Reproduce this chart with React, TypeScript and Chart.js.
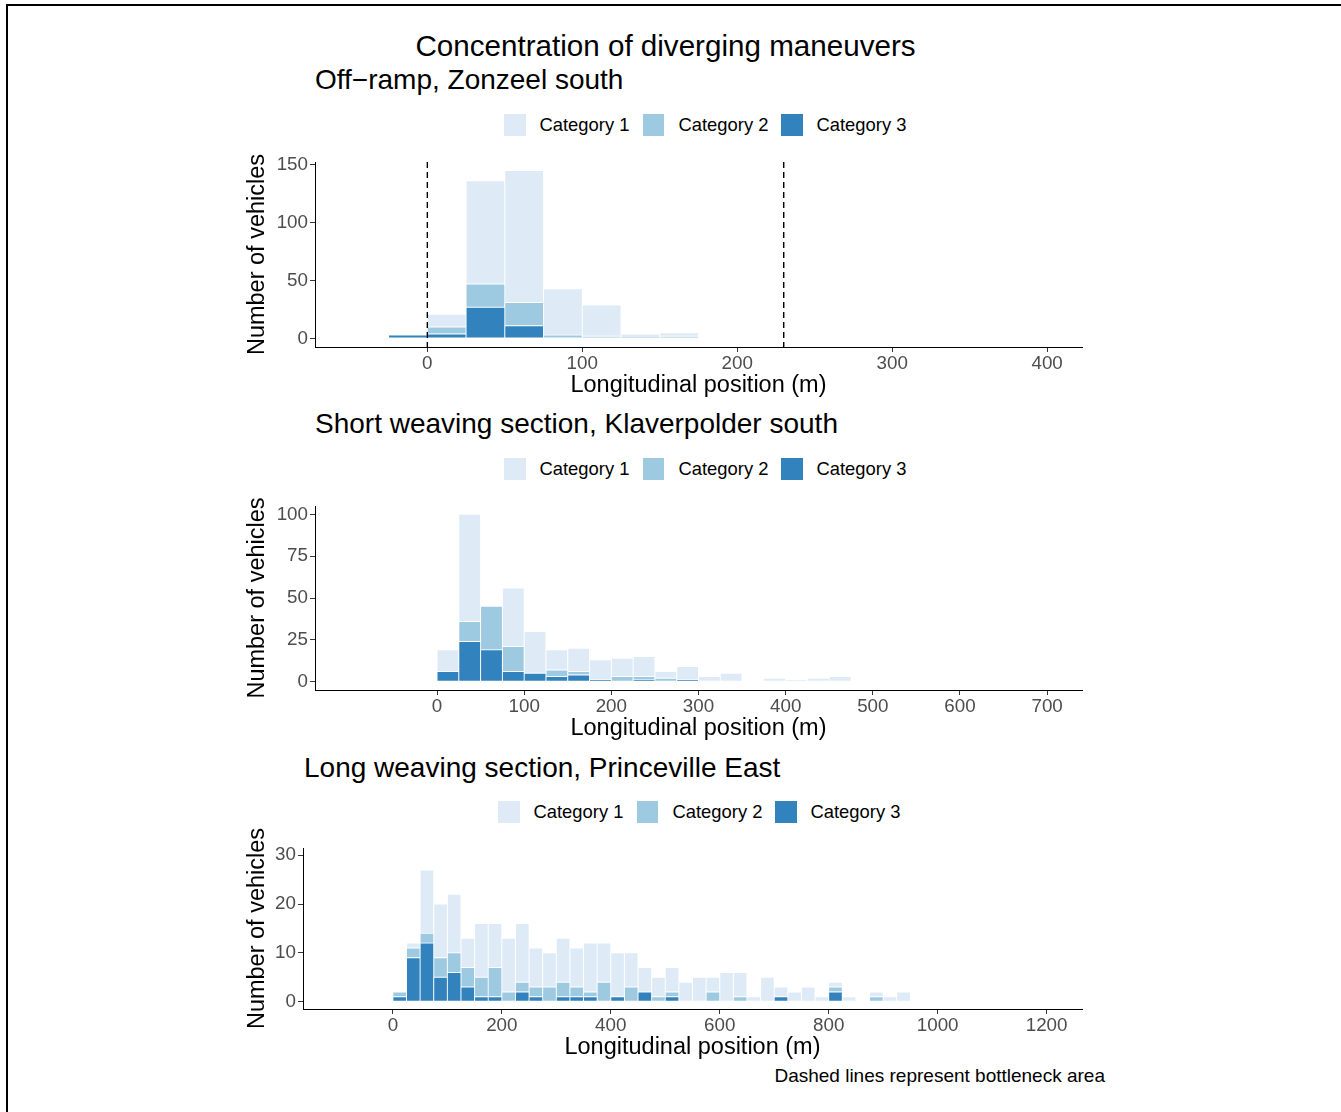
import React, { useEffect, useRef } from 'react';
import { Chart, registerables } from 'chart.js';

Chart.register(...registerables);

const FONT = '"Liberation Sans", Arial, Helvetica, sans-serif';

// ---------- shared ----------
const CATEGORIES = ['Category 1', 'Category 2', 'Category 3'];
const COLORS = ['#deebf7', '#9ecae1', '#3182bd'];
const BIN_WIDTH = 25;
const MAIN_TITLE = 'Concentration of diverging maneuvers';
const CAPTION = 'Dashed lines represent bottleneck area';
const X_TITLE = 'Longitudinal position (m)';
const Y_TITLE = 'Number of vehicles';

// ---------- panel 1: Off-ramp, Zonzeel south ----------
const p1Title = 'Off\u2212ramp, Zonzeel south';
const p1BinStarts = [-25, 0, 25, 50, 75, 100, 125, 150];
const p1Cat1 = [0, 11, 89, 114, 40, 27, 3, 3];
const p1Cat2 = [0, 6, 20, 20, 3, 2, 1, 2];
const p1Cat3 = [3, 4, 27, 11, 0, 0, 0, 0];
const p1XTicks = [0, 100, 200, 300, 400];
const p1YTicks = [0, 50, 100, 150];
const p1Bottleneck = [0, 230];

// ---------- panel 2: Short weaving section, Klaverpolder south ----------
const p2Title = 'Short weaving section, Klaverpolder south';
const p2BinStarts = [0, 25, 50, 75, 100, 125, 150, 175, 200, 225, 250, 275, 300, 325, 350, 375, 400, 425, 450];
const p2Cat1 = [13, 64, 0, 35, 25, 12, 14, 12, 11, 12, 4, 8, 3, 5, 0, 2, 1, 2, 3];
const p2Cat2 = [0, 12, 26, 15, 0, 4, 2, 0, 3, 2, 2, 0, 0, 0, 0, 0, 0, 0, 0];
const p2Cat3 = [6, 24, 19, 6, 5, 3, 4, 1, 0, 1, 0, 1, 0, 0, 0, 0, 0, 0, 0];
const p2XTicks = [0, 100, 200, 300, 400, 500, 600, 700];
const p2YTicks = [0, 25, 50, 75, 100];

// ---------- panel 3: Long weaving section, Princeville East ----------
const p3Title = 'Long weaving section, Princeville East';
const p3BinStarts = [0, 25, 50, 75, 100, 125, 150, 175, 200, 225, 250, 275, 300, 325, 350, 375, 400, 425, 450, 475,
  500, 525, 550, 575, 600, 625, 650, 675, 700, 725, 750, 775, 800, 825, 850, 875, 900, 925];
const p3Cat1 = [0, 1, 13, 11, 12, 6, 11, 9, 11, 12, 8, 7, 9, 8, 10, 8, 9, 7, 5, 4,
  5, 4, 5, 3, 6, 5, 1, 5, 2, 2, 3, 1, 1, 1, 0, 1, 1, 2];
const p3Cat2 = [1, 2, 2, 4, 4, 4, 4, 6, 2, 2, 2, 3, 3, 2, 1, 4, 0, 3, 0, 1,
  1, 0, 0, 2, 0, 1, 0, 0, 0, 0, 0, 0, 1, 0, 0, 1, 0, 0];
const p3Cat3 = [1, 9, 12, 5, 6, 3, 1, 1, 0, 2, 1, 0, 1, 1, 1, 0, 1, 0, 2, 0,
  1, 0, 0, 0, 0, 0, 0, 0, 1, 0, 0, 0, 2, 0, 0, 0, 0, 0];
const p3XTicks = [0, 200, 400, 600, 800, 1000, 1200];
const p3YTicks = [0, 10, 20, 30];

type PanelCfg = {
  binStarts: number[];
  series: number[][]; // cat1, cat2, cat3
  xMin: number; xMax: number; yMin: number; yMax: number;
  xTicks: number[]; yTicks: number[];
  vlines: number[];
  left: number; top: number; width: number; height: number;
  padTop: number; yAxisW: number; xAxisH: number;
};

const PAD_RIGHT = 10;

const panels: PanelCfg[] = [
  {
    binStarts: p1BinStarts, series: [p1Cat1, p1Cat2, p1Cat3],
    xMin: -72.5, xMax: 422.5, yMin: -7.25, yMax: 152.25,
    xTicks: p1XTicks, yTicks: p1YTicks, vlines: p1Bottleneck,
    left: 240, top: 146, width: 852, height: 254, padTop: 16, yAxisW: 75, xAxisH: 53,
  },
  {
    binStarts: p2BinStarts, series: [p2Cat1, p2Cat2, p2Cat3],
    xMin: -140, xMax: 740, yMin: -5, yMax: 105,
    xTicks: p2XTicks, yTicks: p2YTicks, vlines: [],
    left: 240, top: 490, width: 852, height: 253, padTop: 16, yAxisW: 75, xAxisH: 53,
  },
  {
    binStarts: p3BinStarts, series: [p3Cat1, p3Cat2, p3Cat3],
    xMin: -165, xMax: 1265, yMin: -1.5, yMax: 31.5,
    xTicks: p3XTicks, yTicks: p3YTicks, vlines: [],
    left: 240, top: 822, width: 852, height: 240, padTop: 26, yAxisW: 63, xAxisH: 53,
  },
];

const vlinePlugin = {
  id: 'bottleneckLines',
  afterDatasetsDraw(chart: any, _args: any, opts: any) {
    const lines: number[] = (opts && opts.values) || [];
    if (!lines.length) return;
    const { ctx, chartArea, scales } = chart;
    ctx.save();
    ctx.strokeStyle = '#000000';
    ctx.lineWidth = 1.4;
    ctx.setLineDash([6, 4]);
    for (const v of lines) {
      const x = scales.x.getPixelForValue(v);
      ctx.beginPath();
      ctx.moveTo(x, chartArea.top);
      ctx.lineTo(x, chartArea.bottom);
      ctx.stroke();
    }
    ctx.restore();
  },
};

function Panel({ cfg }: { cfg: PanelCfg }) {
  const ref = useRef<HTMLCanvasElement>(null);
  useEffect(() => {
    const canvas = ref.current;
    if (!canvas) return;
    const centers = cfg.binStarts.map((s) => s + BIN_WIDTH / 2);
    const datasets = [2, 1, 0].map((ci) => ({
      label: CATEGORIES[ci],
      data: centers.map((x, i) => ({ x, y: cfg.series[ci][i] === 0 ? null : cfg.series[ci][i] })),
      backgroundColor: COLORS[ci],
      borderColor: '#ffffff',
      borderWidth: 0.8,
      borderSkipped: false,
      barPercentage: 1,
      categoryPercentage: 1,
    }));
    const tickFont = { family: FONT, size: 18.8, lineHeight: 1 };
    const titleFont = { family: FONT, size: 23.5, lineHeight: 1.2 };
    const chart = new Chart(canvas, {
      type: 'bar',
      data: { datasets } as any,
      plugins: [vlinePlugin],
      options: {
        animation: false,
        responsive: false,
        maintainAspectRatio: false,
        layout: { padding: { top: cfg.padTop, right: PAD_RIGHT, left: 0, bottom: 0 } },
        plugins: {
          legend: { display: false },
          tooltip: { enabled: false },
          title: { display: false },
          bottleneckLines: { values: cfg.vlines },
        } as any,
        scales: {
          x: {
            type: 'linear',
            min: cfg.xMin,
            max: cfg.xMax,
            stacked: true,
            offset: false,
            afterBuildTicks: (s: any) => { s.ticks = cfg.xTicks.map((v) => ({ value: v })); },
            afterFit: (s: any) => { s.height = cfg.xAxisH; },
            grid: { display: true, offset: false, drawOnChartArea: false, drawTicks: true, tickLength: 5, color: '#333333', lineWidth: 1 },
            border: { display: true, color: '#000000', width: 1 },
            ticks: { color: '#4d4d4d', font: tickFont, padding: 2.3, maxRotation: 0, minRotation: 0, autoSkip: false, callback: (v: any) => String(v) },
            title: { display: true, text: X_TITLE, color: '#000000', font: titleFont, padding: { top: 0, bottom: 0 } },
          },
          y: {
            type: 'linear',
            min: cfg.yMin,
            max: cfg.yMax,
            stacked: true,
            afterBuildTicks: (s: any) => { s.ticks = cfg.yTicks.map((v) => ({ value: v })); },
            afterFit: (s: any) => { s.width = cfg.yAxisW; },
            grid: { display: true, drawOnChartArea: false, drawTicks: true, tickLength: 5, color: '#333333', lineWidth: 1 },
            border: { display: true, color: '#000000', width: 1 },
            ticks: { color: '#4d4d4d', font: tickFont, padding: 2, autoSkip: false, callback: (v: any) => String(v) },
            title: { display: true, text: Y_TITLE, color: '#000000', font: titleFont, padding: { top: 3.9, bottom: 0 } },
          },
        } as any,
      },
    } as any);
    return () => chart.destroy();
  }, [cfg]);
  return (
    <canvas
      ref={ref}
      width={cfg.width}
      height={cfg.height}
      style={{ position: 'absolute', left: cfg.left, top: cfg.top, width: cfg.width, height: cfg.height }}
    />
  );
}

function Text({ x, baseline, size, children, align = 'left', width = 1000 }: any) {
  const top = baseline - 0.8465 * size;
  const style: React.CSSProperties = {
    position: 'absolute', top, fontSize: size, lineHeight: `${size}px`, whiteSpace: 'nowrap',
    fontFamily: FONT, color: '#000000',
  };
  if (align === 'center') { style.left = x - width / 2; style.width = width; style.textAlign = 'center'; }
  else if (align === 'right') { style.left = x - width; style.width = width; style.textAlign = 'right'; }
  else { style.left = x; }
  return <div style={style}>{children}</div>;
}

function Legend({ x0, cy }: { x0: number; cy: number }) {
  const sqOffsets = [0, 138.7, 277];
  const txtOffsets = [35.5, 174.5, 312.5];
  const size = 21.5;
  const fs = 18.4;
  return (
    <>
      {CATEGORIES.map((c, i) => (
        <React.Fragment key={c}>
          <div style={{ position: 'absolute', left: x0 + sqOffsets[i], top: cy - size / 2, width: size, height: size, background: COLORS[i] }} />
          <Text x={x0 + txtOffsets[i]} baseline={cy + 0.358 * fs} size={fs}>{c}</Text>
        </React.Fragment>
      ))}
    </>
  );
}

export default function App() {
  return (
    <div style={{ position: 'absolute', left: 0, top: 0, width: 1341, height: 1112, overflow: 'hidden', background: '#ffffff', fontFamily: FONT }}>
      <div style={{ position: 'absolute', left: 6, top: 4, width: 1335, height: 1108, boxSizing: 'border-box', borderTop: '2px solid #000', borderLeft: '2px solid #000' }} />
      <Text x={665.5} baseline={56.5} size={29.6} align="center">{MAIN_TITLE}</Text>

      <Text x={315} baseline={90} size={28}>{p1Title}</Text>
      <Legend x0={504} cy={125} />
      <Panel cfg={panels[0]} />

      <Text x={315} baseline={434} size={28}>{p2Title}</Text>
      <Legend x0={504} cy={469} />
      <Panel cfg={panels[1]} />

      <Text x={304} baseline={778} size={28}>{p3Title}</Text>
      <Legend x0={498} cy={812} />
      <Panel cfg={panels[2]} />

      <Text x={1105} baseline={1082} size={19} align="right">{CAPTION}</Text>
    </div>
  );
}
